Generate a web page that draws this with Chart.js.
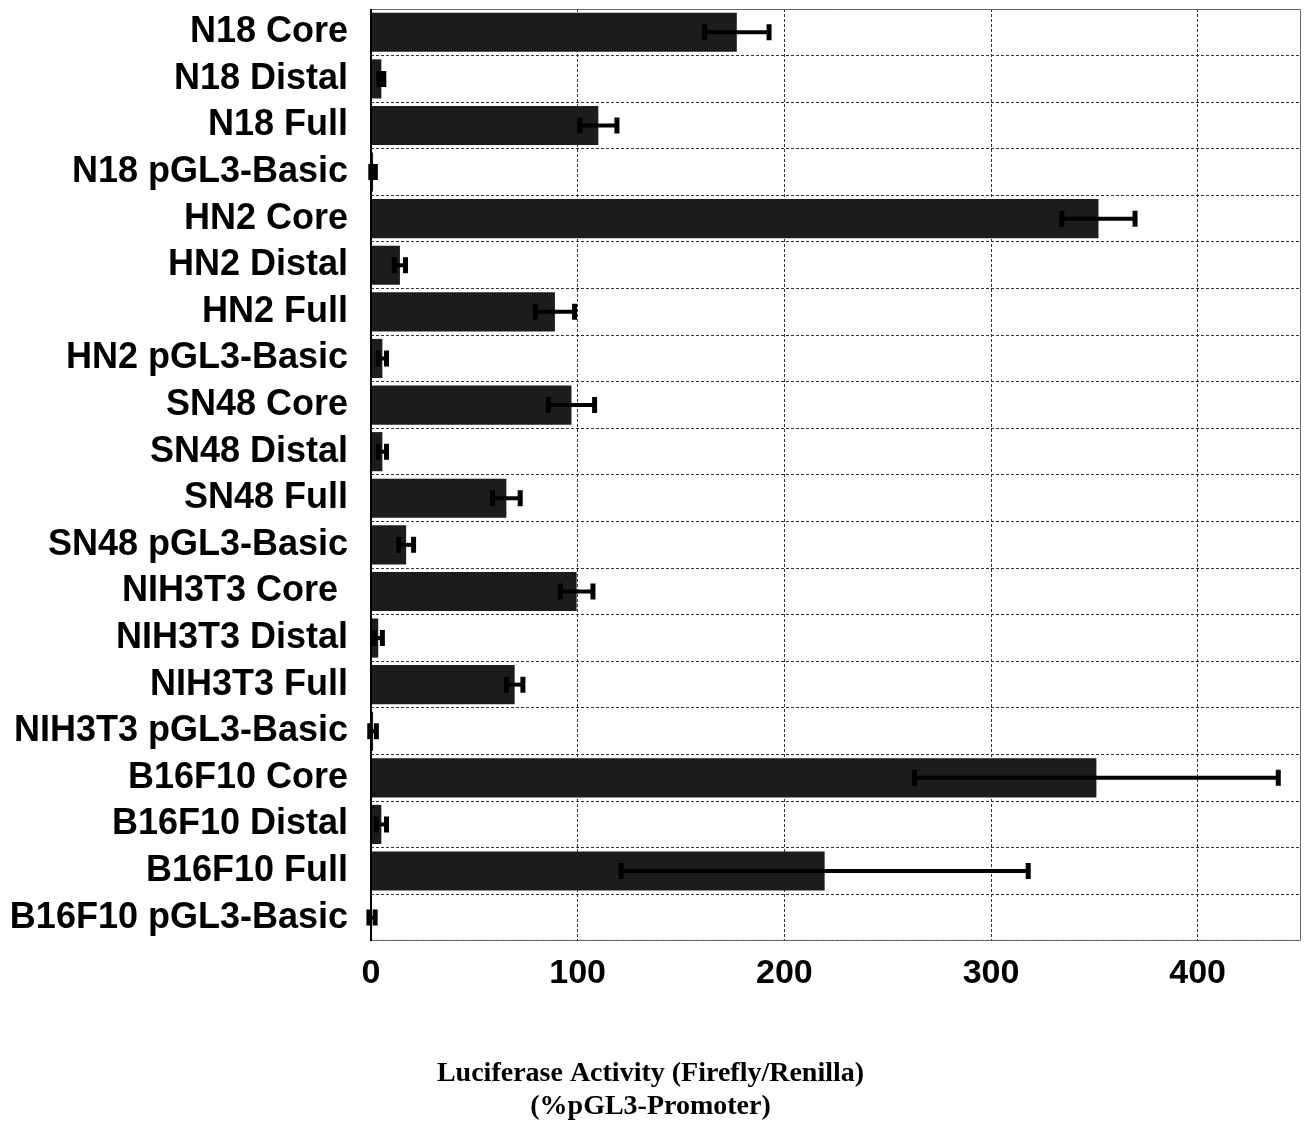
<!DOCTYPE html>
<html>
<head>
<meta charset="utf-8">
<script src="https://cdn.jsdelivr.net/npm/chart.js@4.4.0/dist/chart.umd.min.js"></script>
<style>
html, body { margin: 0; padding: 0; background: #fff; }
#wrap { width: 1308px; height: 1123px; position: relative; }
</style>
</head>
<body>
<div id="wrap"><canvas id="mycanvas"></canvas></div>
<script>
// categories, top to bottom
var labels = [
    'N18 Core', 'N18 Distal', 'N18 Full', 'N18 pGL3-Basic',
    'HN2 Core', 'HN2 Distal', 'HN2 Full', 'HN2 pGL3-Basic',
    'SN48 Core', 'SN48 Distal', 'SN48 Full', 'SN48 pGL3-Basic',
    'NIH3T3 Core ', 'NIH3T3 Distal', 'NIH3T3 Full', 'NIH3T3 pGL3-Basic',
    'B16F10 Core', 'B16F10 Distal', 'B16F10 Full', 'B16F10 pGL3-Basic'
];
// luciferase activity (% pGL3-Promoter)
var values = [
    177, 5, 110, 1,
    352, 14, 89, 5.5,
    97, 5.5, 65.5, 17,
    99.5, 3.5, 69.5, 1,
    351, 5, 219.5, 0.5
];
// error (+/-)
var errors = [
    15.6, 1.2, 9, 1.1,
    17.7, 2.7, 9.5, 2,
    11.2, 2, 6.7, 3.6,
    7.9, 2, 4, 1.6,
    88, 2.5, 98.5, 1.5
];
var xTicks = [0, 100, 200, 300, 400];
var xMax = 450;

var errorBars = {
    id: 'errorBars',
    afterDatasetsDraw: function (chart) {
        var ctx = chart.ctx;
        var xs = chart.scales.x, ys = chart.scales.y;
        ctx.save();
        ctx.strokeStyle = '#000';
        for (var i = 0; i < values.length; i++) {
            var y = ys.getPixelForValue(i);
            var lo = xs.getPixelForValue(values[i] - errors[i]);
            var hi = xs.getPixelForValue(values[i] + errors[i]);
            ctx.lineWidth = 4;
            ctx.beginPath();
            ctx.moveTo(lo, y); ctx.lineTo(hi, y);
            ctx.stroke();
            ctx.lineWidth = 5;
            ctx.beginPath();
            ctx.moveTo(lo, y - 8); ctx.lineTo(lo, y + 8);
            ctx.moveTo(hi, y - 8); ctx.lineTo(hi, y + 8);
            ctx.stroke();
        }
        ctx.restore();
    }
};

var frame = {
    id: 'frame',
    afterDraw: function (chart) {
        var a = chart.chartArea, ctx = chart.ctx;
        ctx.save();
        ctx.strokeStyle = '#666';
        ctx.lineWidth = 1;
        ctx.beginPath();
        ctx.moveTo(a.left, a.top + 0.5); ctx.lineTo(a.right - 0.5, a.top + 0.5);
        ctx.lineTo(a.right - 0.5, a.bottom - 0.5); ctx.lineTo(a.left, a.bottom - 0.5);
        ctx.stroke();
        ctx.strokeStyle = '#000';
        ctx.lineWidth = 2;
        ctx.beginPath();
        ctx.moveTo(a.left, a.top); ctx.lineTo(a.left, a.bottom);
        ctx.stroke();
        ctx.restore();
    }
};

var ctx = document.getElementById('mycanvas');
var barGraph = new Chart(ctx, {
    type: 'bar',
    data: {
        labels: labels,
        datasets: [{
            label: 'Luciferase Activity',
            data: values,
            backgroundColor: '#1c1c1c',
            borderWidth: 0,
            barPercentage: 0.84,
            categoryPercentage: 1.0
        }]
    },
    options: {
        indexAxis: 'y',
        responsive: true,
        maintainAspectRatio: false,
        animation: false,
        layout: { padding: { top: 9, right: 7, left: 0, bottom: 0 } },
        scales: {
            x: {
                min: 0,
                max: xMax,
                afterBuildTicks: function (s) {
                    s.ticks = xTicks.map(function (v) { return { value: v }; });
                },
                afterFit: function (s) {
                    s.height = 116;
                    s.paddingLeft = 0;
                    s.paddingRight = 0;
                },
                grid: { color: '#333', lineWidth: 1, drawTicks: false },
                border: { display: false, dash: [3, 2] },
                ticks: {
                    padding: 12,
                    color: '#000',
                    maxRotation: 0,
                    font: { family: 'Liberation Sans', weight: 'bold', size: 34 }
                }
            },
            y: {
                afterFit: function (s) {
                    s.width = 371;
                    s.paddingTop = 0;
                    s.paddingBottom = 0;
                },
                grid: { color: '#333', lineWidth: 1, drawTicks: false, offset: true },
                border: { display: false, dash: [3, 2] },
                ticks: {
                    padding: 23,
                    color: '#000',
                    autoSkip: false,
                    font: { family: 'Liberation Sans', weight: 'bold', size: 36 }
                }
            }
        },
        plugins: {
            legend: { display: false },
            tooltip: { enabled: false },
            title: {
                display: true,
                position: 'bottom',
                text: ['Luciferase Activity (Firefly/Renilla)', '(%pGL3-Promoter)'],
                color: '#000',
                padding: { top: 0, bottom: 0 },
                font: { family: 'Liberation Serif', weight: 'bold', size: 28, lineHeight: 1.18 }
            }
        }
    },
    plugins: [errorBars, frame]
});
</script>
</body>
</html>
